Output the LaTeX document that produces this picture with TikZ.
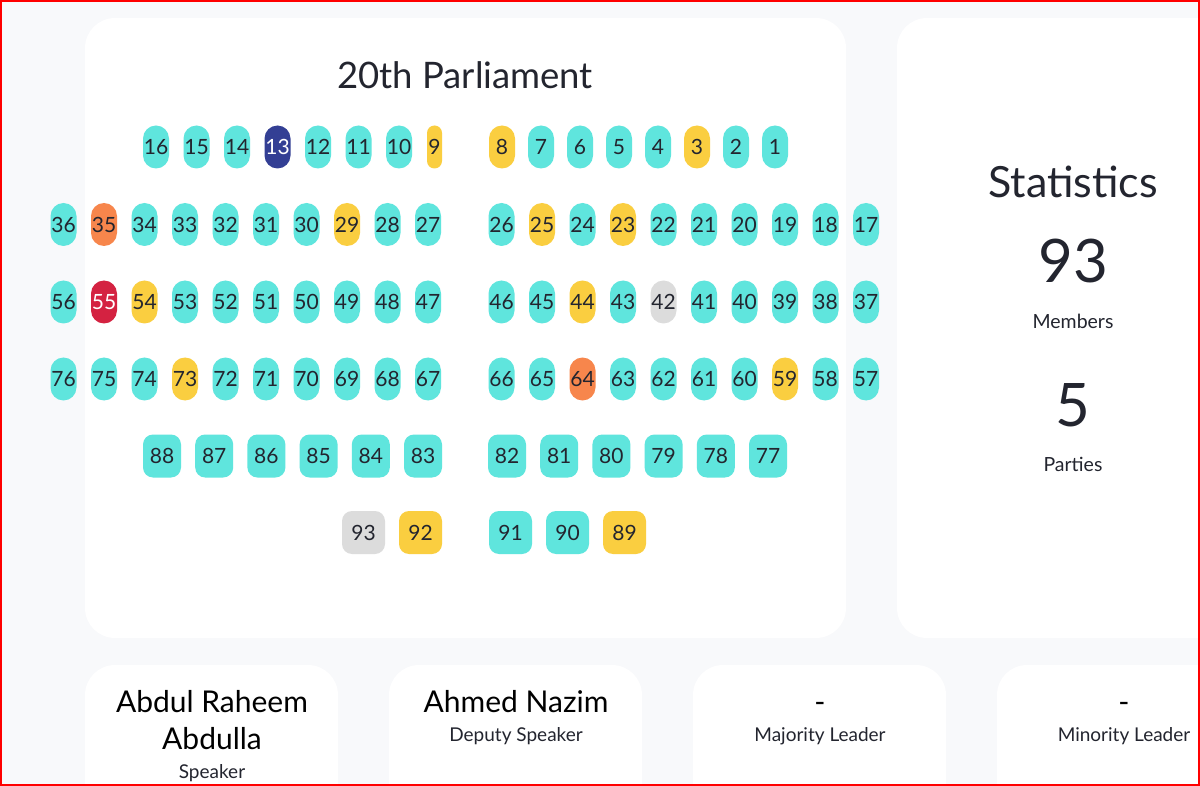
\documentclass[tikz,border=0pt]{standalone}
\usepackage{fontspec}
\setmainfont{Lato}
\usetikzlibrary{positioning}

\definecolor{pagebg}{HTML}{F8F9FB}
\definecolor{seatteal}{HTML}{5FE5DD}
\definecolor{seatyellow}{HTML}{FACE40}
\definecolor{seatorange}{HTML}{F7864C}
\definecolor{seatred}{HTML}{D42241}
\definecolor{seatnavy}{HTML}{333F94}
\definecolor{seatgrey}{HTML}{DCDCDC}
\definecolor{inkdark}{HTML}{23252F}

\newcommand{\fs}[1]{\fontsize{#1}{#1}\selectfont}

\begin{document}
\begin{tikzpicture}[x=1pt,y=-1pt,node distance=40.5pt,
    seat/.style={rectangle,rounded corners=13pt,minimum width=26pt,minimum height=43pt,inner sep=0pt,fill=seatteal,text=inkdark,font=\fs{21}},
    thin seat/.style={seat,minimum width=15pt,rounded corners=7.5pt},
    box seat/.style={seat,minimum width=38pt,rounded corners=10pt},
    big seat/.style={seat,minimum width=43pt,rounded corners=10pt},
    yellow seat/.style={fill=seatyellow},
    orange seat/.style={fill=seatorange},
    red seat/.style={fill=seatred,text=white},
    navy seat/.style={fill=seatnavy,text=white},
    grey seat/.style={fill=seatgrey},
    panel/.style={fill=white,rounded corners=30pt},
    label text/.style={text=inkdark,anchor=base,inner sep=0pt}]

    % page and cards
    \useasboundingbox (0,0) rectangle (1200,786);
    \clip (0,0) rectangle (1200,786);
    \fill[pagebg] (0,0) rectangle (1200,786);
    \fill[panel] (85,18) rectangle (846,638);
    \fill[panel] (897,18) rectangle (1260,638);
    \fill[panel] (85,665) rectangle (338,840);
    \fill[panel] (389,665) rectangle (642,840);
    \fill[panel] (693,665) rectangle (946,840);
    \fill[panel] (997,665) rectangle (1250,840);

    \node[label text,font=\fs{36.5}] (title) at (465,89) {20th Parliament};

    % row 1
    \node[thin seat,yellow seat] (9) at (434.5,147) {9};
    \node[seat] (10) at (399,147) {10};
    \node[seat] (11) [left of = 10] {11};
    \node[seat] (12) [left of = 11] {12};
    \node[seat,navy seat] (13) [left of = 12] {13};
    \node[seat] (14) [left of = 13] {14};
    \node[seat] (15) [left of = 14] {15};
    \node[seat] (16) [left of = 15] {16};

    \begin{scope}[node distance=39pt]
    \node[seat] (1) at (775,147) {1};
    \node[seat] (2) [left of = 1] {2};
    \node[seat,yellow seat] (3) [left of = 2] {3};
    \node[seat] (4) [left of = 3] {4};
    \node[seat] (5) [left of = 4] {5};
    \node[seat] (6) [left of = 5] {6};
    \node[seat] (7) [left of = 6] {7};
    \node[seat,yellow seat] (8) [left of = 7] {8};
    \end{scope}

    % rows 2 to 4
    \begin{scope}[node distance=40.5pt]
    \node[seat] (17) at (866,224.5) {17};
    \node[seat] (18) [left of = 17] {18};
    \node[seat] (19) [left of = 18] {19};
    \node[seat] (20) [left of = 19] {20};
    \node[seat] (21) [left of = 20] {21};
    \node[seat] (22) [left of = 21] {22};
    \node[seat,yellow seat] (23) [left of = 22] {23};
    \node[seat] (24) [left of = 23] {24};
    \node[seat,yellow seat] (25) [left of = 24] {25};
    \node[seat] (26) [left of = 25] {26};

    \node[seat] (27) at (428,224.5) {27};
    \node[seat] (28) [left of = 27] {28};
    \node[seat,yellow seat] (29) [left of = 28] {29};
    \node[seat] (30) [left of = 29] {30};
    \node[seat] (31) [left of = 30] {31};
    \node[seat] (32) [left of = 31] {32};
    \node[seat] (33) [left of = 32] {33};
    \node[seat] (34) [left of = 33] {34};
    \node[seat,orange seat] (35) [left of = 34] {35};
    \node[seat] (36) [left of = 35] {36};

    \node[seat] (37) at (866,302) {37};
    \node[seat] (38) [left of = 37] {38};
    \node[seat] (39) [left of = 38] {39};
    \node[seat] (40) [left of = 39] {40};
    \node[seat] (41) [left of = 40] {41};
    \node[seat,grey seat] (42) [left of = 41] {42};
    \node[seat] (43) [left of = 42] {43};
    \node[seat,yellow seat] (44) [left of = 43] {44};
    \node[seat] (45) [left of = 44] {45};
    \node[seat] (46) [left of = 45] {46};

    \node[seat] (47) at (428,302) {47};
    \node[seat] (48) [left of = 47] {48};
    \node[seat] (49) [left of = 48] {49};
    \node[seat] (50) [left of = 49] {50};
    \node[seat] (51) [left of = 50] {51};
    \node[seat] (52) [left of = 51] {52};
    \node[seat] (53) [left of = 52] {53};
    \node[seat,yellow seat] (54) [left of = 53] {54};
    \node[seat,red seat] (55) [left of = 54] {55};
    \node[seat] (56) [left of = 55] {56};

    \node[seat] (57) at (866,379) {57};
    \node[seat] (58) [left of = 57] {58};
    \node[seat,yellow seat] (59) [left of = 58] {59};
    \node[seat] (60) [left of = 59] {60};
    \node[seat] (61) [left of = 60] {61};
    \node[seat] (62) [left of = 61] {62};
    \node[seat] (63) [left of = 62] {63};
    \node[seat,orange seat] (64) [left of = 63] {64};
    \node[seat] (65) [left of = 64] {65};
    \node[seat] (66) [left of = 65] {66};

    \node[seat] (67) at (428,379) {67};
    \node[seat] (68) [left of = 67] {68};
    \node[seat] (69) [left of = 68] {69};
    \node[seat] (70) [left of = 69] {70};
    \node[seat] (71) [left of = 70] {71};
    \node[seat] (72) [left of = 71] {72};
    \node[seat,yellow seat] (73) [left of = 72] {73};
    \node[seat] (74) [left of = 73] {74};
    \node[seat] (75) [left of = 74] {75};
    \node[seat] (76) [left of = 75] {76};
    \end{scope}

    % row 5
    \begin{scope}[node distance=52.2pt]
    \node[box seat] (77) at (768,456) {77};
    \node[box seat] (78) [left of = 77] {78};
    \node[box seat] (79) [left of = 78] {79};
    \node[box seat] (80) [left of = 79] {80};
    \node[box seat] (81) [left of = 80] {81};
    \node[box seat] (82) [left of = 81] {82};

    \node[box seat] (83) at (423,456) {83};
    \node[box seat] (84) [left of = 83] {84};
    \node[box seat] (85) [left of = 84] {85};
    \node[box seat] (86) [left of = 85] {86};
    \node[box seat] (87) [left of = 86] {87};
    \node[box seat] (88) [left of = 87] {88};
    \end{scope}

    % row 6
    \begin{scope}[node distance=57pt]
    \node[big seat,yellow seat] (89) at (624.5,532.5) {89};
    \node[big seat] (90) [left of = 89] {90};
    \node[big seat] (91) [left of = 90] {91};

    \node[big seat,yellow seat] (92) at (420.5,532.5) {92};
    \node[big seat,grey seat] (93) [left of = 92] {93};
    \end{scope}

    % statistics
    \node[label text,font=\fs{43}] (stats) at (1073,198) {Statistics};
    \node[label text,font=\fs{60}] (members) at (1073,283) {93};
    \node[label text,font=\fs{19.5}] (memberslabel) at (1073,329) {Members};
    \node[label text,font=\fs{60}] (parties) at (1073,426) {5};
    \node[label text,font=\fs{19.5}] (partieslabel) at (1073,471) {Parties};

    % office holders
    \node[label text,font=\fs{30},text=black] (speaker) at (212,712) {Abdul Raheem};
    \node[label text,font=\fs{30},text=black] (speaker2) at (212,749) {Abdulla};
    \node[label text,font=\fs{19}] (speakerrole) at (212,778) {Speaker};
    \node[label text,font=\fs{30},text=black] (deputy) at (516,712) {Ahmed Nazim};
    \node[label text,font=\fs{19}] (deputyrole) at (516,741) {Deputy Speaker};
    \node[label text,font=\fs{30},text=black] (majority) at (820,712) {-};
    \node[label text,font=\fs{19}] (majorityrole) at (820,741) {Majority Leader};
    \node[label text,font=\fs{30},text=black] (minority) at (1124,712) {-};
    \node[label text,font=\fs{19}] (minorityrole) at (1124,741) {Minority Leader};

    \draw[red,line width=2pt] (1,1) rectangle (1199,785);
\end{tikzpicture}
\end{document}
